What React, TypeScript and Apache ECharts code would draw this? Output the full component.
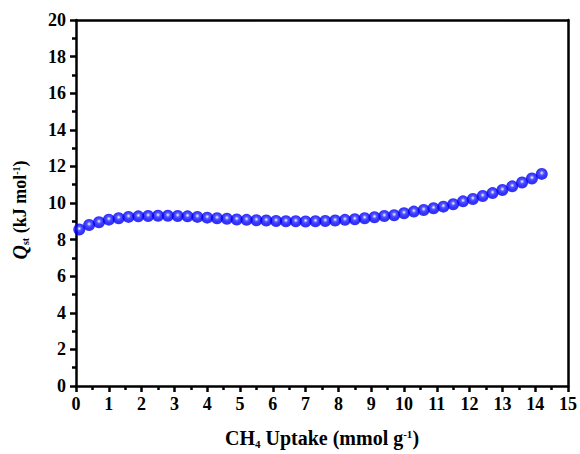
import React, { useEffect, useRef } from "react";
import * as echarts from "echarts";

const uptake = [
  0.1, 0.4, 0.7, 1.0, 1.3, 1.6, 1.9, 2.2, 2.5, 2.8, 3.1, 3.4, 3.7, 4.0, 4.3, 4.6,
  4.9, 5.2, 5.5, 5.8, 6.1, 6.4, 6.7, 7.0, 7.3, 7.6, 7.9, 8.2, 8.5, 8.8, 9.1, 9.4,
  9.7, 10.0, 10.3, 10.6, 10.9, 11.2, 11.5, 11.8, 12.1, 12.4, 12.7, 13.0, 13.3, 13.6,
  13.9, 14.2,
];
const qst = [
  8.55, 8.8, 8.95, 9.09, 9.17, 9.24, 9.27, 9.29, 9.3, 9.3, 9.29, 9.27, 9.24, 9.2, 9.17, 9.14,
  9.1, 9.08, 9.06, 9.04, 9.02, 9.0, 9.0, 8.99, 9.0, 9.02, 9.04, 9.08, 9.11, 9.17, 9.22, 9.29,
  9.33, 9.44, 9.53, 9.62, 9.71, 9.8, 9.93, 10.09, 10.22, 10.38, 10.54, 10.71, 10.91, 11.12,
  11.34, 11.59,
];

const FONT = "'Liberation Serif', 'Times New Roman', serif";

export default function App() {
  const ref = useRef<HTMLDivElement>(null);
  useEffect(() => {
    if (!ref.current) return;
    const chart = echarts.init(ref.current, undefined, { renderer: "svg" });
    const data = uptake.map((x, i) => [x, qst[i]]);
    const axisLineStyle = { color: "#000", width: 2.5 };
    const labelStyle = { color: "#000", fontFamily: FONT, fontWeight: 700, fontSize: 18, margin: 10 };
    chart.setOption({
      animation: false,
      backgroundColor: "#fff",
      grid: { left: 76, right: 10, top: 20, bottom: 66 },
      xAxis: [
        {
          type: "value",
          min: 0,
          max: 15,
          interval: 1,
          position: "bottom",
          axisLine: { show: true, onZero: false, lineStyle: axisLineStyle },
          axisTick: { show: true, inside: false, length: 6, lineStyle: { color: "#000", width: 2.5 } },
          minorTick: { show: true, splitNumber: 2, length: 4, lineStyle: { color: "#000", width: 2.5 } },
          splitLine: { show: false },
          axisLabel: { ...labelStyle, margin: 9 },
          name: "{n|CH}{sub|4}{n| Uptake (mmol g}{sup|-1}{n|)}",
          nameLocation: "middle",
          nameGap: 41,
          nameTextStyle: {
            rich: {
              n: { fontFamily: FONT, fontWeight: 700, fontSize: 20, color: "#000" },
              sub: { fontFamily: FONT, fontWeight: 700, fontSize: 11, color: "#000", padding: [11, 0, 0, 0] },
              sup: { fontFamily: FONT, fontWeight: 700, fontSize: 11, color: "#000", padding: [0, 0, 9, 0] },
            },
          },
        },
        {
          type: "value",
          min: 0,
          max: 15,
          position: "top",
          axisLine: { show: true, onZero: false, lineStyle: axisLineStyle },
          axisTick: { show: false },
          axisLabel: { show: false },
          splitLine: { show: false },
        },
      ],
      yAxis: [
        {
          type: "value",
          min: 0,
          max: 20,
          interval: 2,
          position: "left",
          axisLine: { show: true, onZero: false, lineStyle: axisLineStyle },
          axisTick: { show: true, inside: false, length: 6, lineStyle: { color: "#000", width: 2.5 } },
          minorTick: { show: true, splitNumber: 2, length: 4, lineStyle: { color: "#000", width: 2.5 } },
          splitLine: { show: false },
          axisLabel: labelStyle,
          name: "{q|Q}{sub|st}{n| (kJ mol}{sup|-1}{n|)}",
          nameLocation: "middle",
          nameGap: 46,
          nameRotate: 90,
          nameTextStyle: {
            padding: [0, 14, 0, 0],
            rich: {
              q: { fontFamily: FONT, fontWeight: 700, fontStyle: "italic", fontSize: 20, color: "#000" },
              n: { fontFamily: FONT, fontWeight: 700, fontSize: 18, color: "#000" },
              sub: { fontFamily: FONT, fontWeight: 700, fontSize: 10, color: "#000", padding: [10, 0, 0, 0] },
              sup: { fontFamily: FONT, fontWeight: 700, fontSize: 10, color: "#000", padding: [0, 0, 8, 0] },
            },
          },
        },
        {
          type: "value",
          min: 0,
          max: 20,
          position: "right",
          axisLine: { show: true, onZero: false, lineStyle: axisLineStyle },
          axisTick: { show: false },
          axisLabel: { show: false },
          splitLine: { show: false },
        },
      ],
      series: [
        {
          type: "scatter",
          data,
          symbol: "circle",
          symbolSize: 12,
          itemStyle: {
            color: {
              type: "radial",
              x: 0.5,
              y: 0.42,
              r: 0.6,
              colorStops: [
                { offset: 0, color: "#ffffff" },
                { offset: 0.1, color: "#b4b4ff" },
                { offset: 0.3, color: "#2a2aff" },
                { offset: 0.6, color: "#0000ff" },
                { offset: 1, color: "#0000e6" },
              ],
            },
          },
        },
      ],
    });
    return () => chart.dispose();
  }, []);
  return <div ref={ref} style={{ width: 580, height: 454, position: "absolute", left: 0, top: 0 }} />;
}
